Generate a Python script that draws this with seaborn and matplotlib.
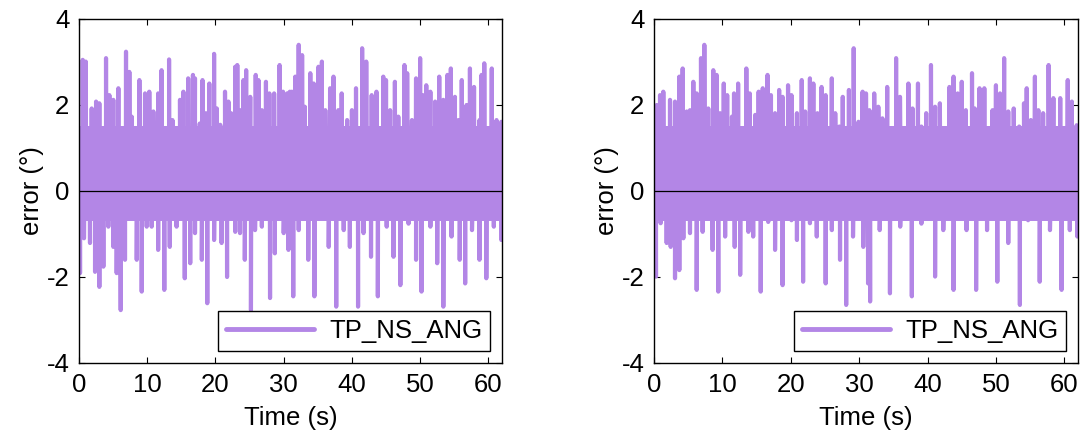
import numpy as np
import pandas as pd
import matplotlib
matplotlib.use("Agg")
import matplotlib.pyplot as plt
import seaborn as sns

# ---- data ----
band_hi = 1.45   # upper edge of the dense oscillation band
band_lo = -0.65  # lower edge of the dense oscillation band
t_end = 62.0

left_hi_t = [0.54, 0.99, 1.86, 2.5, 2.98, 3.96, 4.45, 5.03, 5.77, 6.89, 7.38, 7.72, 8.85, 9.68, 10.3,
             10.9, 11.6, 12.1, 13.2, 13.7, 14.8, 15.3, 16.0, 16.7, 17.0, 17.7, 18.1, 18.6, 19.1, 19.8,
             20.2, 20.7, 21.4, 21.9, 22.3, 22.9, 23.2, 23.7, 24.1, 24.5, 25.1, 25.9, 26.3, 26.8, 27.4,
             27.9, 28.6, 29.4, 29.9, 30.5, 30.9, 31.2, 31.7, 32.2, 32.7, 33.1, 33.9, 34.4, 35.1, 35.6,
             36.1, 36.8, 37.3, 38.0, 38.5, 39.3, 40.0, 40.6, 41.5, 42.1, 42.9, 43.6, 44.6, 45.0, 45.6,
             46.3, 46.8, 47.7, 48.1, 48.8, 49.4, 50.0, 50.4, 50.9, 51.5, 52.2, 52.8, 53.4, 54.0, 54.5,
             55.1, 55.6, 56.1, 56.8, 57.3, 57.9, 58.7, 59.0, 59.4, 60.5, 61.2, 61.9]
left_hi_v = [3.05, 3.01, 1.92, 2.08, 2.04, 3.09, 2.23, 2.12, 2.39, 3.24, 2.77, 1.73, 2.58, 2.27, 2.31,
             1.85, 2.27, 2.81, 3.06, 1.65, 2.12, 2.31, 2.62, 2.70, 2.62, 1.57, 2.58, 1.81, 2.50, 3.19,
             1.92, 1.54, 2.31, 2.08, 1.81, 2.89, 2.93, 1.88, 2.58, 2.81, 2.19, 2.70, 2.58, 1.88, 2.54,
             2.27, 2.27, 2.93, 2.31, 2.27, 2.31, 2.31, 2.66, 3.40, 3.16, 1.96, 2.74, 2.50, 2.89, 3.01,
             1.88, 2.39, 2.66, 1.88, 2.27, 1.65, 1.88, 2.39, 3.32, 3.01, 2.23, 2.31, 2.66, 2.58, 1.88,
             2.54, 1.73, 2.93, 2.74, 1.65, 2.62, 3.09, 2.23, 2.46, 2.31, 2.08, 2.66, 2.12, 2.70, 2.85,
             2.19, 1.65, 2.58, 2.00, 2.85, 2.42, 1.65, 2.70, 2.97, 2.85, 1.65, 1.61]
left_lo_t = [0.15, 0.73, 1.61, 2.35, 2.98, 3.57, 4.30, 5.03, 5.52, 6.11, 6.74, 8.46, 9.19, 9.92, 10.65,
             11.6, 12.5, 13.3, 14.3, 15.5, 16.3, 17.0, 18.0, 18.8, 19.8, 20.9, 21.7, 22.9, 23.6, 24.3,
             25.2, 25.8, 26.8, 28.0, 28.7, 30.0, 30.7, 31.4, 32.2, 33.6, 34.5, 35.6, 36.6, 37.7, 38.8,
             39.7, 40.9, 41.7, 42.8, 43.8, 45.1, 46.1, 47.1, 48.3, 49.4, 50.2, 51.5, 52.5, 53.4, 54.6,
             55.8, 56.6, 57.6, 58.7, 59.7, 60.8, 61.9]
left_lo_v = [-1.91, -1.10, -1.21, -1.88, -2.23, -1.76, -0.83, -1.30, -1.91, -2.77, -1.60, -1.60, -2.34,
             -0.83, -0.83, -1.37, -2.30, -1.30, -0.83, -2.03, -1.68, -0.98, -1.60, -2.61, -1.14, -1.21,
             -2.00, -0.95, -0.98, -1.60, -2.77, -0.91, -0.83, -2.49, -1.45, -0.98, -1.37, -2.45, -0.91,
             -1.60, -2.45, -0.60, -1.30, -2.69, -0.91, -1.30, -2.69, -0.98, -1.53, -2.45, -0.83, -1.53,
             -2.19, -0.76, -1.60, -2.34, -0.83, -1.68, -2.69, -1.06, -1.60, -2.15, -0.91, -1.60, -2.03,
             -0.83, -1.14]

right_hi_t = [0.39, 0.88, 1.36, 1.85, 2.34, 3.07, 3.70, 4.19, 4.78, 5.26, 5.75, 6.24, 6.87, 7.36, 7.94,
              8.67, 9.16, 9.65, 10.2, 10.7, 11.4, 11.7, 12.3, 13.5, 14.0, 14.8, 15.3, 15.9, 16.6, 17.1,
              17.7, 18.3, 18.8, 19.6, 20.1, 20.9, 21.6, 22.1, 22.8, 23.3, 23.9, 24.5, 25.1, 26.0, 26.5,
              27.1, 27.6, 28.5, 29.2, 29.9, 30.5, 31.0, 31.5, 32.2, 32.8, 33.4, 34.1, 34.8, 35.4, 35.97,
              36.5, 37.2, 37.8, 38.6, 39.1, 39.8, 40.5, 41.1, 41.8, 42.6, 43.2, 43.8, 44.4, 45.0, 45.6,
              46.5, 46.9, 47.6, 48.3, 48.9, 49.5, 50.0, 50.6, 51.2, 51.8, 52.6, 53.4, 54.1, 54.5, 55.1,
              55.7, 56.2, 56.9, 57.7, 58.4, 59.4, 59.9, 60.5, 61.1, 61.8]
right_hi_v = [2.00, 2.23, 2.31, 1.42, 2.12, 2.08, 2.66, 2.85, 1.85, 1.88, 2.54, 2.27, 3.09, 3.40, 1.92,
              2.81, 2.70, 1.81, 2.50, 2.23, 1.73, 2.27, 2.50, 2.85, 2.27, 1.77, 2.31, 2.39, 2.70, 2.23,
              1.81, 2.35, 2.19, 2.46, 2.23, 1.81, 2.58, 1.85, 2.62, 2.50, 1.81, 2.42, 2.23, 2.62, 1.81,
              1.50, 2.19, 2.35, 3.32, 1.61, 2.31, 2.27, 1.88, 2.27, 1.96, 1.69, 2.42, 1.19, 3.09, 2.19,
              1.42, 2.50, 1.92, 2.50, 1.50, 1.81, 2.93, 1.96, 2.04, 1.42, 2.42, 2.66, 2.27, 2.54, 1.88,
              2.74, 1.92, 2.39, 2.39, 1.42, 1.88, 2.46, 2.27, 3.09, 1.85, 1.92, 1.50, 2.04, 2.39, 1.65,
              2.66, 1.88, 1.81, 2.93, 2.16, 2.16, 1.42, 2.58, 2.08, 1.53]
right_lo_t = [0.29, 0.97, 1.85, 2.44, 3.07, 3.70, 4.29, 5.26, 6.24, 7.11, 7.94, 8.57, 9.4, 10.4, 11.2,
              11.8, 12.6, 13.8, 14.5, 15.6, 16.7, 17.7, 18.8, 20.1, 20.9, 21.8, 22.8, 23.8, 25.1, 26.0,
              27.2, 28.1, 29.1, 30.6, 31.3, 31.6, 33.0, 34.5, 36.0, 37.7, 39.1, 41.1, 42.3, 43.8, 45.7,
              47.1, 48.7, 50.2, 51.8, 53.5, 54.7, 56.4, 57.9, 59.6, 60.8, 61.9]
right_lo_v = [-1.99, -0.75, -1.21, -1.30, -2.03, -1.84, -1.10, -0.98, -2.30, -0.95, -0.60, -1.37, -2.34,
              -1.06, -0.60, -1.30, -1.95, -0.95, -1.06, -2.34, -0.72, -1.37, -2.19, -0.68, -1.14, -2.11,
              -0.75, -1.06, -2.15, -0.91, -1.60, -2.65, -1.06, -1.30, -2.15, -2.57, -0.91, -2.38, -0.83,
              -2.45, -0.76, -1.99, -0.91, -2.30, -0.91, -2.30, -0.91, -2.11, -1.21, -2.65, -0.68, -2.11,
              -0.91, -2.30, -0.91, -1.06]

x_ticks = [0, 10, 20, 30, 40, 50, 60]
y_ticks = [-4, -2, 0, 2, 4]
series_name = "TP_NS_ANG"
line_color = "#B386E6"


def build_series(hi_t, hi_v, lo_t, lo_v):
    # dense band: alternate between band edges, then insert the spikes
    base_t = np.arange(0.0, t_end + 1e-9, 0.03)
    base_v = np.where(np.arange(base_t.size) % 2 == 0, band_hi, band_lo)
    t = np.concatenate([base_t, np.asarray(hi_t) + 0.001, np.asarray(lo_t) + 0.002])
    v = np.concatenate([base_v, hi_v, lo_v])
    order = np.argsort(t, kind="mergesort")
    return pd.DataFrame({"Time (s)": t[order], "error": v[order]})


sns.set_theme(style="ticks")
plt.rcParams["font.family"] = ["Liberation Sans", "DejaVu Sans"]
plt.rcParams["text.color"] = "black"
plt.rcParams["axes.labelcolor"] = "black"
plt.rcParams["xtick.color"] = "black"
plt.rcParams["ytick.color"] = "black"
plt.rcParams["axes.unicode_minus"] = False

FS = 18.5

fig = plt.figure(figsize=(10.84, 4.38), dpi=100)
axes = [fig.add_axes([79 / 1084, 75 / 438, 423 / 1084, 344 / 438]),
        fig.add_axes([654 / 1084, 75 / 438, 424 / 1084, 344 / 438])]

datasets = [(left_hi_t, left_hi_v, left_lo_t, left_lo_v),
            (right_hi_t, right_hi_v, right_lo_t, right_lo_v)]

for ax, d in zip(axes, datasets):
    df = build_series(*d)
    sns.lineplot(data=df, x="Time (s)", y="error", ax=ax, color=line_color, lw=3.0,
                 estimator=None, sort=False, label=series_name)
    ax.axhline(0, color="black", lw=0.9, zorder=5)
    ax.set_xlim(0, t_end)
    ax.set_ylim(-4, 4)
    ax.set_xticks(x_ticks)
    ax.set_yticks(y_ticks)
    ax.tick_params(direction="in", length=4, width=0.8, top=True, right=True,
                   labelsize=FS, colors="black", pad=7)
    for s in ax.spines.values():
        s.set_visible(True)
        s.set_color("black")
        s.set_linewidth(1.0)
    ax.set_xlabel("Time (s)", fontsize=FS, labelpad=7)
    ax.set_ylabel("error (°)", fontsize=FS, labelpad=2)
    leg = ax.legend(loc="lower right", fontsize=FS, handlelength=3.4, frameon=True,
                    fancybox=False, framealpha=1, edgecolor="black",
                    borderaxespad=0.45, borderpad=0.32, handletextpad=0.6)
    leg.get_frame().set_linewidth(1.0)
    for h in leg.get_lines():
        h.set_linewidth(3.5)

fig.savefig("out.png", dpi=100)
